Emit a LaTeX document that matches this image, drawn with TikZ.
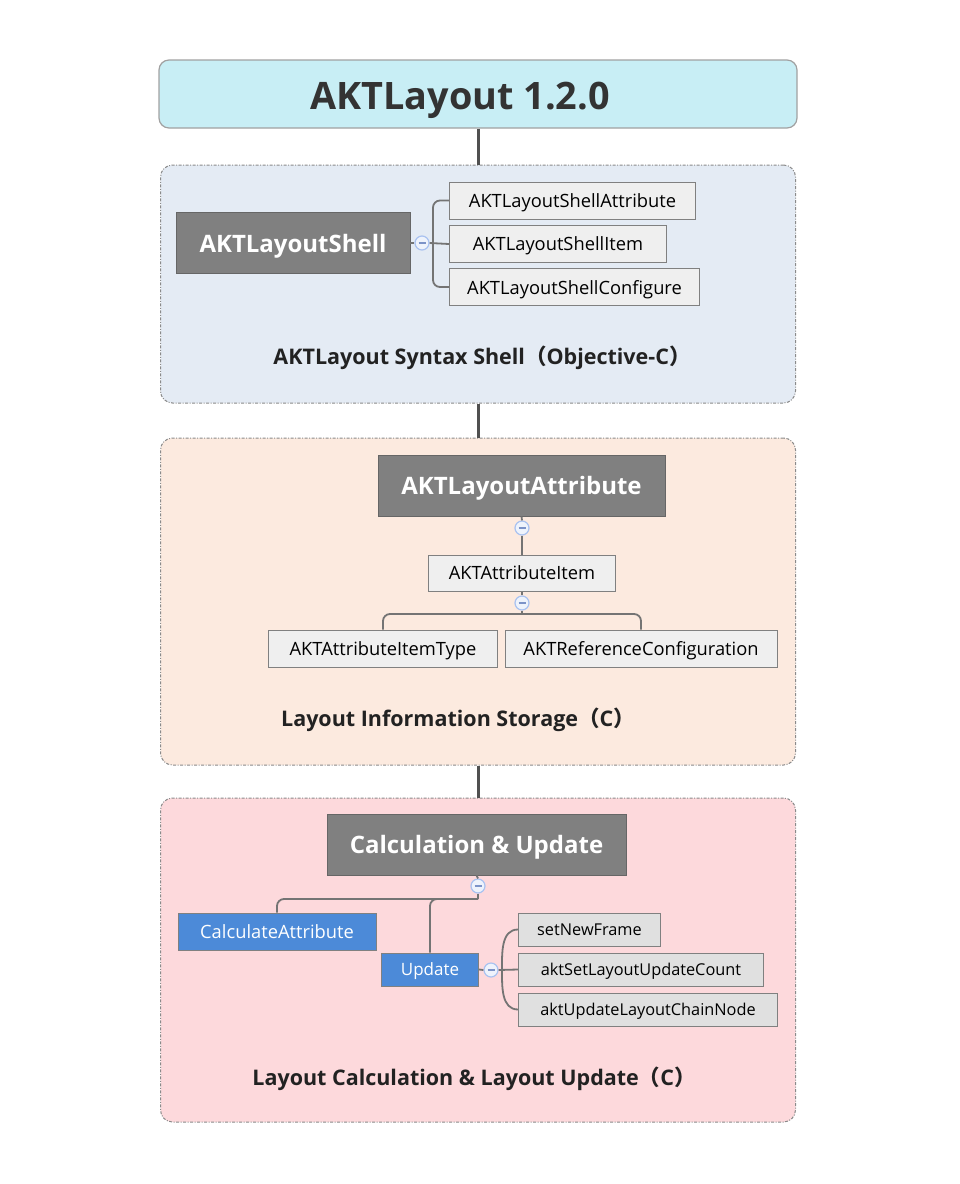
\documentclass[tikz,border=0pt]{standalone}
\usepackage{fontspec}
\setmainfont{Open Sans}
\newfontfamily\cjk{Noto Sans CJK SC}
\usepackage{tikz}
\usetikzlibrary{positioning,calc,backgrounds}
\usepackage{xcolor}
\definecolor{titlebg}{HTML}{C8EEF5}
\definecolor{shellbg}{HTML}{E4EBF4}
\definecolor{storebg}{HTML}{FCEADF}
\definecolor{calcbg}{HTML}{FDD9DC}
\definecolor{framegray}{HTML}{8A8A8A}
\definecolor{boxgray}{HTML}{808080}
\definecolor{leafbg}{HTML}{EFEFEF}
\definecolor{leafdark}{HTML}{E0E0E0}
\definecolor{methodblue}{HTML}{4C8AD8}
\definecolor{treeline}{HTML}{747474}
\definecolor{linkdark}{HTML}{505050}
\definecolor{minusring}{HTML}{A9C2F0}
\definecolor{minusfill}{HTML}{EEF3FC}
\definecolor{minusbar}{HTML}{7C93C8}
\definecolor{labeltext}{HTML}{222222}
\definecolor{titletext}{HTML}{333333}

\begin{document}
\begin{tikzpicture}[
  x=1pt, y=-1pt,
  layerpanel/.style={
    draw=framegray,
    line width=1pt,
    dash pattern=on 3pt off 1.5pt on 1pt off 1.5pt,
    rounded corners=12pt,
    minimum width=635pt,
    inner sep=0pt
  },
  mainbox/.style={
    draw=boxgray!80!black,
    fill=boxgray,
    line width=0.8pt,
    text=white,
    font=\fontsize{24}{28}\selectfont\bfseries,
    minimum height=61pt,
    text depth=0pt,
    inner sep=0pt
  },
  leafbox/.style={
    draw=boxgray,
    fill=leafbg,
    line width=1pt,
    text=black,
    font=\fontsize{18.3}{22}\selectfont,
    minimum height=37pt,
    text depth=0pt,
    inner sep=0pt
  },
  methodbox/.style={
    leafbox,
    fill=methodblue,
    text=white
  },
  callbox/.style={
    leafbox,
    fill=leafdark,
    anchor=west,
    font=\fontsize{16.3}{20}\selectfont,
    minimum height=33pt
  },
  minusdot/.style={
    circle,
    draw=minusring,
    fill=minusfill,
    line width=1.2pt,
    minimum size=14pt,
    inner sep=0pt,
    path picture={\draw[minusbar, line width=1.4pt]
      ($(path picture bounding box.center)+(-3.5,0)$) -- ++(7,0);}
  },
  layerlabel/.style={
    text=labeltext,
    font=\fontsize{21.5}{26}\selectfont\bfseries
  },
  tree/.style={draw=treeline, line width=1.8pt},
  link/.style={draw=linkdark, line width=3pt}
]
  \useasboundingbox (0,0) rectangle (960,1184);

  % --- Title ---
  \node[draw=framegray!80, fill=titlebg, line width=1.2pt, rounded corners=10pt,
        minimum width=638pt, minimum height=68pt, text depth=0pt, text=titletext,
        font=\fontsize{37.8}{42}\selectfont\bfseries] (title) at (478,94) {\raisebox{-4pt}{AKTLayout 1.2.0}\hspace*{36pt}};

  % --- LAYER 1: Syntax Shell ---
  \node[layerpanel, fill=shellbg, minimum height=238pt] (shellpanel) at (478,284) {};
  \node[mainbox, minimum width=234pt] (shell) at (293,243) {AKTLayoutShell};
  \node[minusdot] (shellminus) at (422,243) {};
  \node[leafbox, anchor=west, minimum width=246pt] (shellattr) at (449,200.5) {AKTLayoutShellAttribute};
  \node[leafbox, anchor=west, minimum width=217pt] (shellitem) at (449,244) {AKTLayoutShellItem};
  \node[leafbox, anchor=west, minimum width=250pt] (shellconf) at (449,287) {AKTLayoutShellConfigure};
  \coordinate (shellfork) at (433,243);
  \node[layerlabel] (shelllabel) at (482,358) {AKTLayout Syntax Shell{\cjk （}Objective-C{\cjk ）}};

  \draw[tree] (shell.east) -- (shellminus.west);
  \draw[tree] (shellminus.east) -- (shellitem.west);
  \draw[tree, rounded corners=7pt] (shellattr.west) -| (shellfork) |- (shellconf.west);

  % --- LAYER 2: Information Storage ---
  \node[layerpanel, fill=storebg, minimum height=327pt] (storepanel) at (478,601.5) {};
  \node[mainbox, minimum width=287pt] (attr) at (521.5,485.5) {AKTLayoutAttribute};
  \node[minusdot] (attrminus) at (522,528) {};
  \node[leafbox, minimum width=187pt, minimum height=36pt] (attritem) at (522,573) {AKTAttributeItem};
  \node[minusdot] (itemminus) at (522,603) {};
  \node[leafbox, minimum width=229pt] (itemtype) at (383,648.5) {AKTAttributeItemType};
  \node[leafbox, minimum width=272pt] (refconf) at (641,648.5) {AKTReferenceConfiguration};
  \coordinate (itemfork) at (522,614);
  \node[layerlabel] (storelabel) at (458,720) {Layout Information Storage{\cjk （}C{\cjk ）}};

  \draw[tree] (attr.south) -- (attrminus.north);
  \draw[tree] (attrminus.south) -- (attritem.north);
  \draw[tree] (attritem.south) -- (itemminus.north);
  \draw[tree] (itemminus.south) -- (itemfork);
  \draw[tree, rounded corners=7pt] (itemtype.north) |- (itemfork) -| (refconf.north);

  % --- LAYER 3: Calculation & Update ---
  \node[layerpanel, fill=calcbg, minimum height=324pt] (calcpanel) at (478,960) {};
  \node[mainbox, minimum width=299pt] (calc) at (476.5,844.5) {Calculation \& Update};
  \node[minusdot] (calcminus) at (478,886) {};
  \coordinate (calcfork) at (478,899);
  \node[methodbox, minimum width=198pt] (calcattr) at (277,931.5) {CalculateAttribute};
  \node[methodbox, minimum width=97pt, minimum height=33pt, font=\fontsize{17}{20}\selectfont] (update) at (430,969.5) {Update};
  \node[minusdot] (updminus) at (491,970) {};
  \coordinate (updfork) at (502,970);
  \node[callbox, minimum width=142pt] (setframe) at (518,929.5) {setNewFrame};
  \node[callbox, minimum width=245pt] (setcount) at (518,969.5) {aktSetLayoutUpdateCount};
  \node[callbox, minimum width=259pt] (setchain) at (518,1009.5) {aktUpdateLayoutChainNode};
  \node[layerlabel] (calclabel) at (474,1079) {Layout Calculation \& Layout Update{\cjk （}C{\cjk ）}};

  \draw[tree] (calc.south) -- (calcminus.north);
  \draw[tree] (calcminus.south) -- (calcfork);
  \draw[tree, rounded corners=7pt] (calcfork) -| (calcattr.north);
  \draw[tree, rounded corners=7pt] (calcfork) -| (update.north);
  \draw[tree] (update.east) -- (updminus.west);
  \draw[tree] (updminus.east) -- (setcount.west);
  \draw[tree] (updfork) to[out=90, in=180] (setframe.west);
  \draw[tree] (updfork) to[out=-90, in=180] (setchain.west);

  % Links between layers
  \draw[link] (title.south) -- (shellpanel.north);
  \draw[link] (shellpanel.south) -- (storepanel.north);
  \draw[link] (storepanel.south) -- (calcpanel.north);

\end{tikzpicture}
\end{document}
